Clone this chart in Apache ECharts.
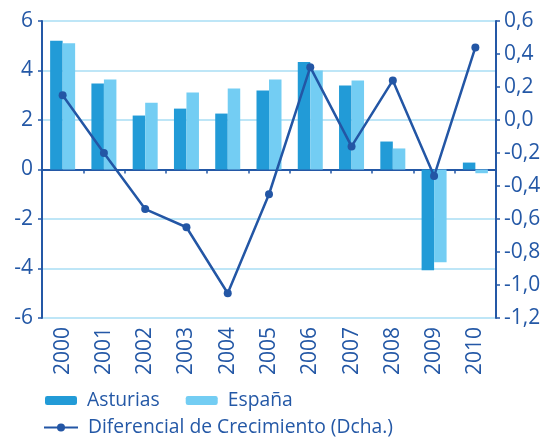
<!DOCTYPE html>
<html><head><meta charset="utf-8">
<script src="https://cdn.jsdelivr.net/npm/echarts@6/dist/echarts.min.js"></script>
<style>html,body{margin:0;padding:0;background:#fff}#c{width:547px;height:439px}</style>
</head><body><div id="c"></div>
<script>
const years = ['2000','2001','2002','2003','2004','2005','2006','2007','2008','2009','2010'];
const asturias = [5.2, 3.47, 2.18, 2.46, 2.26, 3.19, 4.34, 3.39, 1.13, -4.07, 0.28];
const espana = [5.1, 3.64, 2.7, 3.11, 3.27, 3.64, 4.0, 3.6, 0.85, -3.75, -0.15];
const diferencial = [0.15, -0.2, -0.54, -0.65, -1.05, -0.45, 0.32, -0.16, 0.24, -0.34, 0.44];
const leftTicks = {min: -6, max: 6, interval: 2};
const rightTicks = {min: -1.2, max: 0.6, interval: 0.2};

const dark = '#2458a6';
const font = '"Open Sans", sans-serif';
const chart = echarts.init(document.getElementById('c'));
chart.setOption({
  animation: false,
  backgroundColor: '#fff',
  grid: {left: 42, right: 51, top: 21, bottom: 121, containLabel: false},
  xAxis: [{
    type: 'category', data: years, position: 'bottom',
    axisLine: {show: false, onZero: false}, axisTick: {show: false},
    axisLabel: {rotate: 90, margin: 9, color: dark, fontSize: 21, fontFamily: font}
  }, {
    type: 'category', data: years, position: 'bottom',
    axisLine: {show: true, onZero: true, onZeroAxisIndex: 0, lineStyle: {color: dark, width: 2}},
    axisTick: {show: true, length: 4, lineStyle: {color: dark, width: 1.5}},
    axisLabel: {show: false}, splitLine: {show: false}
  }],
  yAxis: [{
    type: 'value', min: leftTicks.min, max: leftTicks.max, interval: leftTicks.interval,
    axisLine: {show: true, lineStyle: {color: dark, width: 2}},
    axisTick: {show: true, length: 4, lineStyle: {color: dark, width: 1.5}},
    axisLabel: {margin: 9, color: dark, fontSize: 21, fontFamily: font},
    splitLine: {show: true, lineStyle: {color: '#a9def5', width: 1.5}}
  }, {
    type: 'value', min: rightTicks.min, max: rightTicks.max, interval: rightTicks.interval,
    position: 'right',
    axisLine: {show: true, lineStyle: {color: dark, width: 2}},
    axisTick: {show: true, length: 4, lineStyle: {color: dark, width: 1.5}},
    axisLabel: {margin: 8, color: dark, fontSize: 21, fontFamily: font,
      formatter: v => { let s = (Math.abs(v) < 1e-9 ? 0 : v).toFixed(1); return s.replace('.', ','); }},
    splitLine: {show: false}
  }],
  legend: [{
    data: ['Asturias', 'España'], left: 45, top: 391, orient: 'horizontal', padding: 0,
    itemWidth: 32, itemHeight: 9, itemGap: 26,
    textStyle: {color: dark, fontSize: 19.3, fontFamily: font, padding: [0, 0, 0, 5]}
  }, {
    data: ['Diferencial de Crecimiento (Dcha.)'], left: 43, top: 418, padding: 0,
    itemWidth: 34, itemHeight: 10,
    textStyle: {color: dark, fontSize: 19.3, fontFamily: font, padding: [0, 0, 0, 5]}
  }],
  series: [{
    name: 'Asturias', type: 'bar', data: asturias, barWidth: 12.5, barGap: '0%',
    itemStyle: {color: '#229bd7'}
  }, {
    name: 'España', type: 'bar', data: espana, barWidth: 12.5, barGap: '0%',
    itemStyle: {color: '#73cdf3'}
  }, {
    name: 'Diferencial de Crecimiento (Dcha.)', type: 'line', yAxisIndex: 1, data: diferencial,
    symbol: 'circle', symbolSize: 8, z: 5,
    lineStyle: {color: '#2356a5', width: 2.5}, itemStyle: {color: '#2356a5'}
  }]
});
</script></body></html>
